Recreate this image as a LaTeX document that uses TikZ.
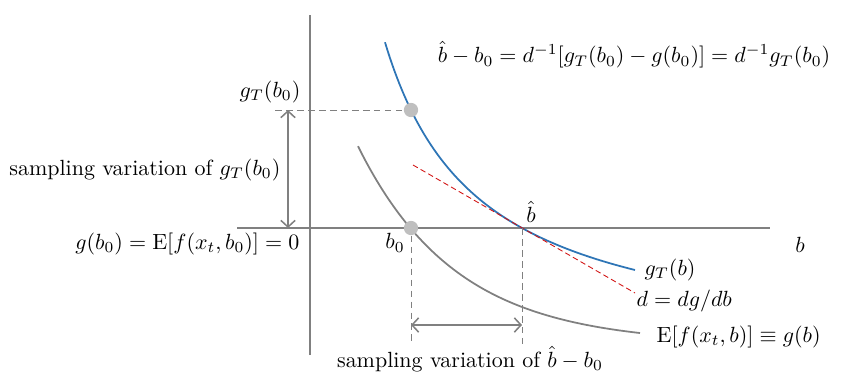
\documentclass[tikz,border=0pt]{standalone}
\usetikzlibrary{arrows.meta, positioning}

\definecolor{axisgray}{RGB}{128,128,128}
\definecolor{curveblue}{RGB}{46,117,182}
\definecolor{dotgray}{RGB}{191,191,191}
\definecolor{tangentred}{RGB}{210,20,20}

\begin{document}
\begin{tikzpicture}[
    x=0.455pt, y=-0.455pt,
    axisstyle/.style={draw=axisgray, line width=0.7pt},
    guidestyle/.style={draw=axisgray, line width=0.35pt, dash pattern=on 3pt off 2pt},
    arrowstyle/.style={draw=axisgray, line width=0.7pt,
        {Straight Barb[length=3pt,width=6.5pt]}-{Straight Barb[length=3pt,width=6.5pt]}},
    dotstyle/.style={circle, fill=dotgray, inner sep=0pt, minimum size=6.5pt},
    labelstyle/.style={inner sep=1pt}
]
\useasboundingbox (0,0) rectangle (853,387);

% Axes
\coordinate (yTop) at (310,15);
\coordinate (yBot) at (310,355);
\coordinate (xLeft) at (237,228);
\coordinate (xRight) at (770,228);
\draw[axisstyle] (yBot) -- (yTop);
\draw[axisstyle] (xLeft) -- (xRight);

% Curves
\draw[draw=curveblue, line width=0.8pt] plot[domain=385:635, samples=80, smooth]
    (\x, {356 - 296.17/((\x-290.6)/100)});
\draw[draw=axisgray, line width=0.8pt] plot[domain=358:640, samples=80, smooth]
    (\x, {344.2 - 114.2*exp(-0.0102*(\x-412))});

% Tangent at b-hat
\coordinate (tanStart) at (413,165);
\coordinate (tanEnd) at (635,293);
\draw[draw=tangentred, line width=0.4pt, dash pattern=on 2.5pt off 1.5pt] (tanStart) -- (tanEnd);

% Points
\node[dotstyle] (gTpt) at (411,110) {};
\node[dotstyle] (b0pt) at (411,228) {};
\coordinate (bhat) at (522,228);
\coordinate (gTtick) at (275,110);
\coordinate (arrTop) at (288,110);
\coordinate (arrBot) at (288,228);
\coordinate (b0low) at (411,345);
\coordinate (bhatlow) at (522,345);
\coordinate (harrL) at (411,325);
\coordinate (harrR) at (522,325);

% Guides
\draw[guidestyle] (gTtick) -- (gTpt);
\draw[guidestyle] (b0pt) -- (b0low);
\draw[guidestyle] (bhat) -- (bhatlow);

% Arrows
\draw[arrowstyle] (arrTop) -- (arrBot);
\draw[arrowstyle] (harrL) -- (harrR);

% Labels
\node[labelstyle] (eqtop) at (634,55) {$\hat b - b_0 = d^{-1}[g_T(b_0) - g(b_0)] = d^{-1} g_T(b_0)$};
\node[labelstyle] (gTlbl) at (270,92) {$g_T(b_0)$};
\node[labelstyle, anchor=east] (sampA) at (283,170) {sampling variation of $g_T(b_0)$};
\node[labelstyle, anchor=east] (zeroLbl) at (302,244) {$g(b_0) = \mathrm{E}[f(x_t, b_0)] = 0$};
\node[labelstyle] (b0lbl) at (395,243) {$b_0$};
\node[labelstyle] (bhatlbl) at (531,212) {$\hat b$};
\node[labelstyle] (blbl) at (800,245) {$b$};
\node[labelstyle, anchor=west] (gTblbl) at (642,270) {$g_T(b)$};
\node[labelstyle, anchor=west] (dlbl) at (634,301) {$d = dg/db$};
\node[labelstyle, anchor=west] (Elbl) at (654,337) {$\mathrm{E}[f(x_t, b)] \equiv g(b)$};
\node[labelstyle] (sampB) at (470,359) {sampling variation of $\hat b - b_0$};

\end{tikzpicture}
\end{document}
